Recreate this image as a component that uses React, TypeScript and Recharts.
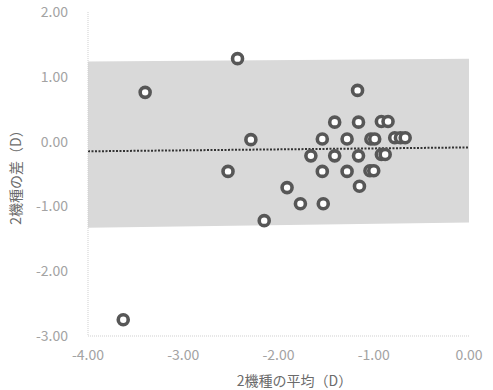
import React from "react";
import {
  ComposedChart, Area, Line, Scatter,
  XAxis, YAxis, Label,
} from "recharts";

// Bland-Altman: 2機種の平均 vs 2機種の差
const avgValues = [
  -3.40, -2.43, -2.29, -2.53, -3.63,
  -1.17, -1.41, -1.16, -0.92, -0.85,
  -1.54, -1.28, -1.03, -0.99, -0.78, -0.72, -0.67,
  -1.66, -1.41, -1.16, -0.92, -0.88,
  -1.54, -1.28, -1.04, -1.00,
  -1.91, -1.15, -1.77, -1.53, -2.15,
];
const diffValues = [
  0.76, 1.28, 0.03, -0.46, -2.75,
  0.79, 0.30, 0.30, 0.31, 0.31,
  0.04, 0.04, 0.04, 0.04, 0.06, 0.06, 0.06,
  -0.22, -0.22, -0.22, -0.20, -0.20,
  -0.46, -0.46, -0.45, -0.45,
  -0.71, -0.69, -0.96, -0.96, -1.22,
];

// limits of agreement band + mean difference (ends at x = -4 and x = 0)
const bandX = [-4, 0];
const bandUpper = [1.235, 1.28];
const bandLower = [-1.33, -1.25];
const meanDiff = [-0.15, -0.09];

const xTicks = [-4, -3, -2, -1, 0];
const yTicks = [-3, -2, -1, 0, 1, 2];

const bandData = bandX.map((x, i) => ({
  x,
  band: [bandLower[i], bandUpper[i]],
  mean: meanDiff[i],
}));
const points = avgValues.map((x, i) => ({ x, y: diffValues[i] }));

const labelFont = "'Noto Sans CJK JP', 'Noto Sans', sans-serif";
const tickStyle = { fill: "#a3a3a3", fontSize: 14, fontFamily: labelFont };

const Ring = (p: any) => (
  <circle cx={p.cx} cy={p.cy} r={5} fill="#ffffff" stroke="#575757" strokeWidth={3.6} />
);

export default function App() {
  return (
    <div style={{ position: "absolute", left: 0, top: 0, width: 493, height: 390, background: "#fff" }}>
      <ComposedChart width={493} height={390} data={bandData} margin={{ top: 12, right: 24, bottom: 0, left: 0 }}>
        <XAxis
          dataKey="x" type="number" domain={[-4, 0]} ticks={xTicks} height={54}
          tickFormatter={v => v.toFixed(2)} tick={tickStyle}
          tickLine={false} tickSize={0} tickMargin={14}
          axisLine={{ stroke: "#cfcfcf", strokeDasharray: "1 1" }}
        >
          <Label value="2機種の平均（D）" position="insideBottom" offset={4} dx={16}
            style={{ fill: "#6b6b6b", fontSize: 14, fontFamily: labelFont }} />
        </XAxis>
        <YAxis
          type="number" domain={[-3, 2]} ticks={yTicks} width={88}
          tickFormatter={v => v.toFixed(2)} tick={tickStyle}
          tickLine={false} tickSize={0} tickMargin={20}
          axisLine={{ stroke: "#cfcfcf", strokeDasharray: "1 1" }}
        >
          <Label value="2機種の差（D）" angle={-90} position="insideLeft" offset={16}
            style={{ fill: "#6b6b6b", fontSize: 14, fontFamily: labelFont, textAnchor: "middle" }} />
        </YAxis>
        <Area dataKey="band" stroke="none" fill="#d9d9d9" fillOpacity={1} isAnimationActive={false} />
        <Line dataKey="mean" stroke="#333333" strokeWidth={2} strokeDasharray="2 1.5" dot={false} isAnimationActive={false} />
        <Scatter data={points} dataKey="y" shape={Ring} isAnimationActive={false} />
      </ComposedChart>
    </div>
  );
}
